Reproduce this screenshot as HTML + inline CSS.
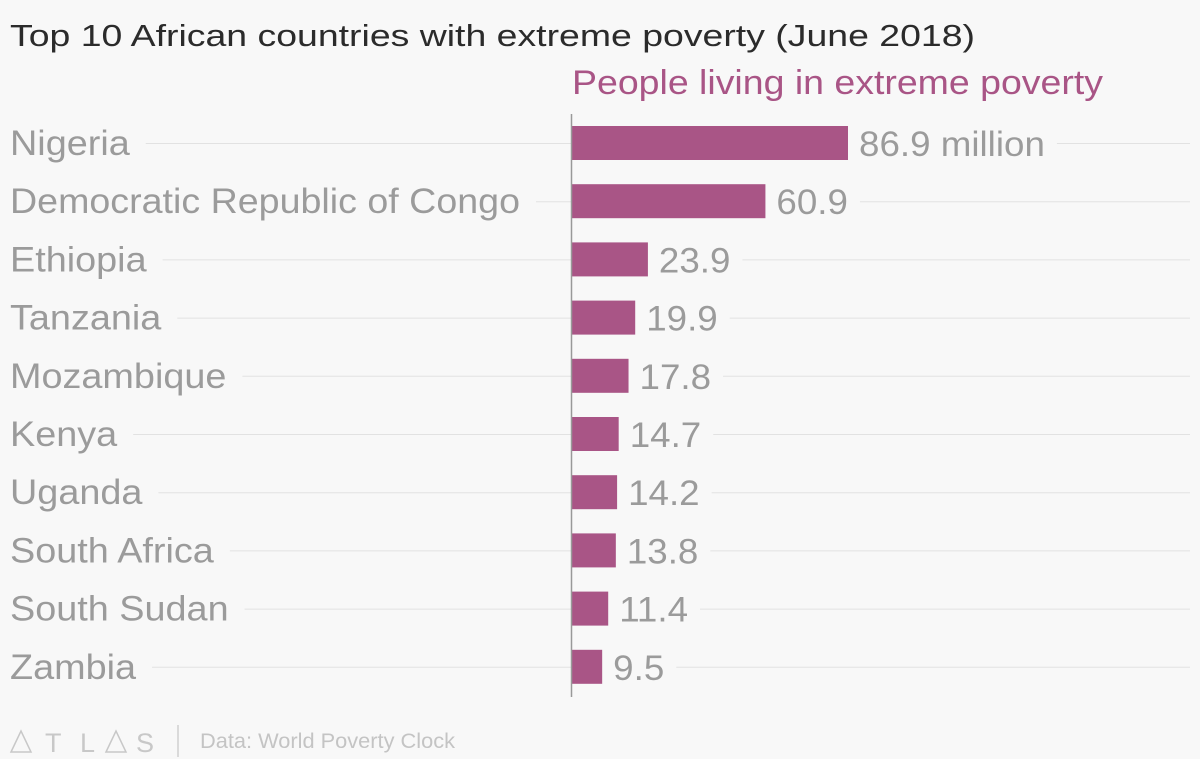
<!DOCTYPE html>
<html><head><meta charset="utf-8"><style>
body{margin:0;background:#f8f8f8;}
svg{display:block;font-family:"Liberation Sans",sans-serif;}
</style></head><body>
<svg id="c" width="1200" height="759">
<rect width="1200" height="759" fill="#f8f8f8"/>
<text x="10" y="46" font-size="31" fill="#2b2b2b" textLength="965" lengthAdjust="spacingAndGlyphs">Top 10 African countries with extreme poverty (June 2018)</text>
<text x="572" y="94" font-size="34" fill="#a95586" textLength="531" lengthAdjust="spacingAndGlyphs">People living in extreme poverty</text>
<g id="grid"></g><g id="bars"></g>
<line x1="571.5" y1="114" x2="571.5" y2="697" stroke="#999" stroke-width="1.5"/>
<path d="M11 752 L21 731 L31 752 Z" fill="none" stroke="#c8c8c8" stroke-width="1.5"/>
<text y="752" font-size="27" fill="#c8c8c8"><tspan x="45">T</tspan><tspan x="80">L</tspan></text>
<path d="M106 752 L116 731 L126 752 Z" fill="none" stroke="#c8c8c8" stroke-width="1.5"/>
<text x="136" y="752" font-size="27" fill="#c8c8c8">S</text>
<line x1="178" y1="725" x2="178" y2="757" stroke="#d0d0d0" stroke-width="1.5"/>
<text x="200" y="748" font-size="21" fill="#c4c4c4" textLength="255" lengthAdjust="spacingAndGlyphs">Data: World Poverty Clock</text>
</svg>
<script>
const categories=["Nigeria","Democratic Republic of Congo","Ethiopia","Tanzania","Mozambique","Kenya","Uganda","South Africa","South Sudan","Zambia"];
const values=[86.9,60.9,23.9,19.9,17.8,14.7,14.2,13.8,11.4,9.5];
const valueLabels=["86.9 million","60.9","23.9","19.9","17.8","14.7","14.2","13.8","11.4","9.5"];
const NS="http://www.w3.org/2000/svg";
const x0=572, pxPerUnit=276/86.9;
const xs=v=>x0+v*pxPerUnit;
const ys=i=>143+i*58.2;
const grid=document.getElementById('grid'),bars=document.getElementById('bars');
function mk(tag,attrs,parent){const e=document.createElementNS(NS,tag);for(const k in attrs)e.setAttribute(k,attrs[k]);parent.appendChild(e);return e;}
categories.forEach((c,i)=>{
  const y=ys(i);
  const t=mk('text',{x:10,y:y+12,'font-size':35,fill:'#9b9b9b'},grid);
  t.textContent=c;
  
  
  let lw=t.getComputedTextLength()*1.08;
  if(i===1)lw=510;
  t.setAttribute('textLength',lw);
  t.setAttribute('lengthAdjust','spacingAndGlyphs');
  const g1=mk('line',{x1:10+lw+16,x2:571,y1:y+0.5,y2:y+0.5,stroke:'#e2e2e2','stroke-width':1},grid);
  
  
  const xe=xs(values[i]);
  const r=mk('rect',{x:x0,y:y-17,width:xe-x0,height:34,fill:'#a95586'},bars);
  
  
  const vt=mk('text',{x:xe+11,y:y+13,'font-size':35,fill:'#9b9b9b'},bars);
  vt.textContent=valueLabels[i];
  
  
  const vw=vt.getComputedTextLength()*1.05;
  vt.setAttribute('textLength',vw);
  vt.setAttribute('lengthAdjust','spacingAndGlyphs');
  const g2=mk('line',{x1:xe+11+vw+12,x2:1190,y1:y+0.5,y2:y+0.5,stroke:'#e2e2e2','stroke-width':1},grid);
  
  
});
</script>
</body></html>
